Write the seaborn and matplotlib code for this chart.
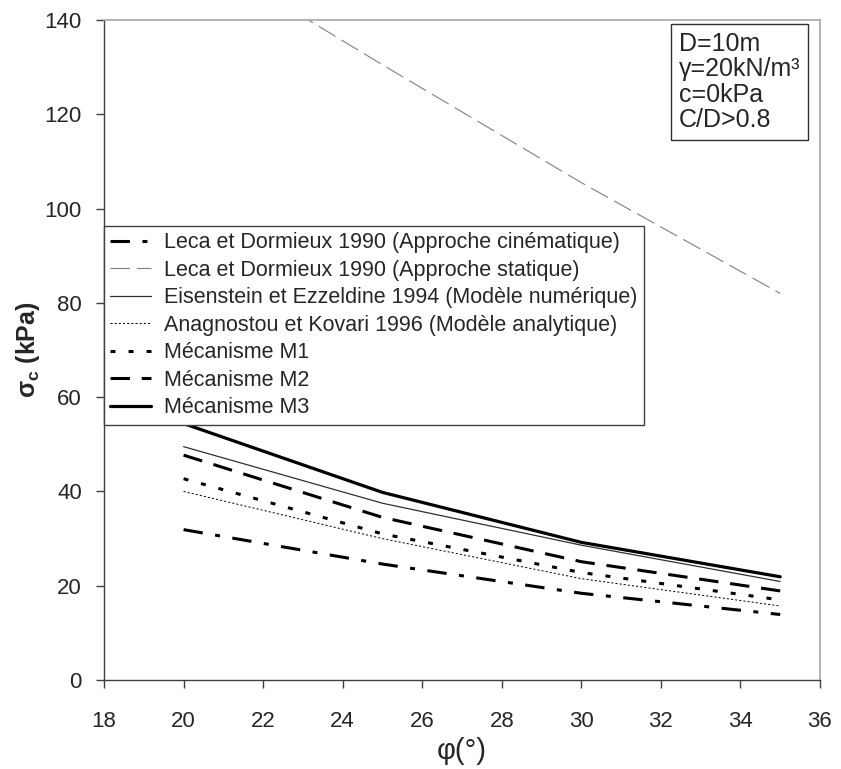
import numpy as np
import pandas as pd
import matplotlib
matplotlib.use("Agg")
import matplotlib.pyplot as plt
import seaborn as sns

# data
phi = [20, 25, 30, 35]
leca_cin = [31.9, 24.6, 18.4, 13.9]
leca_stat = [156.0, 130.5, 105.5, 82.0]
eisenstein = [49.5, 37.5, 28.6, 20.9]
anagnostou = [40.0, 30.0, 21.5, 15.7]
meca_m1 = [42.7, 31.0, 22.8, 17.0]
meca_m2 = [47.7, 34.5, 25.1, 18.9]
meca_m3 = [54.4, 39.8, 29.2, 21.9]

labels = [
    "Leca et Dormieux 1990 (Approche cinématique)",
    "Leca et Dormieux 1990 (Approche statique)",
    "Eisenstein et Ezzeldine 1994 (Modèle numérique)",
    "Anagnostou et Kovari 1996 (Modèle analytique)",
    "Mécanisme M1",
    "Mécanisme M2",
    "Mécanisme M3",
]
series = [leca_cin, leca_stat, eisenstein, anagnostou, meca_m1, meca_m2, meca_m3]

sns.set_style("ticks")
plt.rcParams['font.family'] = ['Liberation Sans', 'DejaVu Sans']
plt.rcParams['mathtext.default'] = 'regular'
plt.rcParams['lines.scale_dashes'] = False

# line looks: color, width, linestyle
looks = [
    ("black", 2.2, (0, (14, 9, 3.6, 9))),
    ("#808080", 0.8, (0, (14, 5))),
    ("#303030", 0.9, "-"),
    ("black", 0.7, (0, (1.5, 1.5))),
    ("black", 2.2, (0, (3.6, 9.4))),
    ("black", 2.2, (0, (14, 8.5))),
    ("black", 2.3, "-"),
]

fig = plt.figure(figsize=(8.41, 7.69), dpi=100)
ax = fig.add_axes([0.1237, 0.1157, 0.8513, 0.8583])

for lab, vals, (col, lw, ls) in zip(labels, series, looks):
    df = pd.DataFrame({"phi": phi, "sigma": vals})
    sns.lineplot(data=df, x="phi", y="sigma", ax=ax, color=col, lw=lw,
                 linestyle=ls, label=lab)

ax.set_xlim(18, 36)
ax.set_ylim(0, 140)
ax.set_xticks(np.arange(18, 37, 2))
ax.set_yticks(np.arange(0, 141, 20))
ax.tick_params(axis="x", labelsize=16, length=6, width=1, pad=16, color="#404040")
ax.tick_params(axis="y", labelsize=16, length=6, width=1, pad=10, color="#404040")

for s in ["left", "bottom"]:
    ax.spines[s].set_color("#404040")
    ax.spines[s].set_linewidth(1)
for s in ["top", "right"]:
    ax.spines[s].set_color("#a8a8a8")
    ax.spines[s].set_linewidth(1.2)

ax.set_xlabel("φ(°)", fontsize=21, labelpad=4)
ax.set_ylabel(r"$\sigma_c$ (kPa)", fontsize=18, fontweight="bold", labelpad=2)

leg = ax.legend(loc="upper left", bbox_to_anchor=(0.0, 0.688), borderaxespad=0,
                fontsize=15.5, fancybox=False, framealpha=1, edgecolor="#404040",
                handlelength=1.9, handletextpad=0.6, labelspacing=0.3,
                borderpad=0.3)
leg.get_frame().set_linewidth(1)

ax.text(0.803, 0.982, "D=10m\nγ=20kN/m³\nc=0kPa\nC/D>0.8", transform=ax.transAxes,
        fontsize=18, va="top", ha="left", linespacing=1.08,
        bbox=dict(boxstyle="square,pad=0.3", fc="white", ec="#303030", lw=1))

fig.savefig("out.png", dpi=100)
